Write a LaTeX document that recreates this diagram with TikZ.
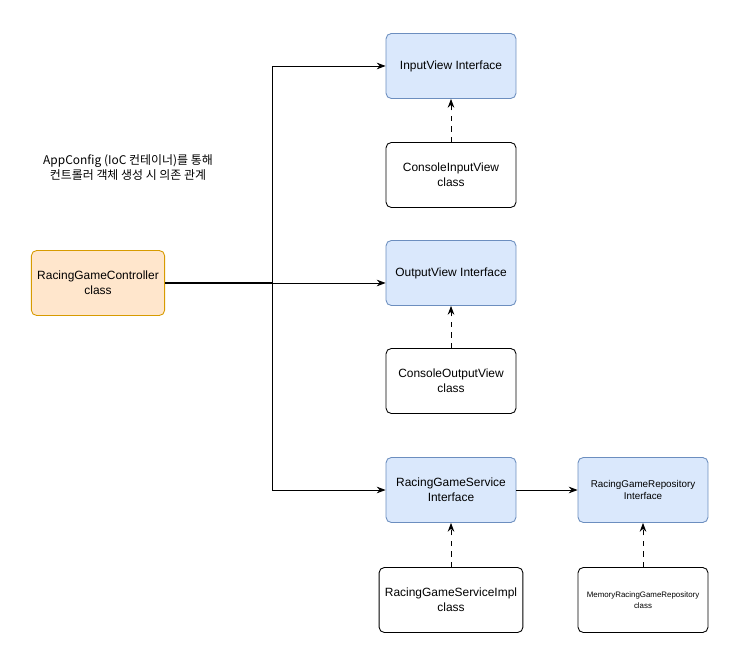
\documentclass[tikz,border=0pt]{standalone}
\usepackage{fontspec}
\setmainfont{Liberation Sans}
\newfontfamily\krfont{Noto Sans CJK KR}
\usetikzlibrary{arrows.meta}
\definecolor{ifill}{HTML}{DAE8FC}
\definecolor{iline}{HTML}{6C8EBF}
\definecolor{cfill}{HTML}{FFE6CC}
\definecolor{cline}{HTML}{D79B00}

\begin{document}
\begin{tikzpicture}[x=0.02cm, y=-0.02cm,
	box/.style={draw, rounded corners=3pt, minimum width=2.6cm, minimum height=1.3cm,
		align=center, font=\fontsize{6.8}{8.5}\selectfont, line width=0.5pt},
	iface/.style={box, fill=ifill, draw=iline},
	impl/.style={box, fill=white, draw=black},
	dep/.style={-{Stealth[length=5pt]}, line width=0.5pt},
	real/.style={-{Stealth[length=5pt]}, dashed, line width=0.5pt}]
	\useasboundingbox (0,0) rectangle (743,651);
	\node[box, fill=cfill, draw=cline] (ctrl) at (98,283) {RacingGameController\\class};
	\node[iface] (inview) at (451,66) {InputView Interface};
	\node[impl] (cinview) at (451,175) {ConsoleInputView\\class};
	\node[iface] (outview) at (451,273) {OutputView Interface};
	\node[impl] (coutview) at (451,381) {ConsoleOutputView\\class};
	\node[iface] (service) at (451,490) {RacingGameService\\Interface};
	\node[impl] (serviceimpl) at (451,600) {RacingGameServiceImpl\\class};
	\node[iface, font=\fontsize{5.6}{7}\selectfont] (repo) at (643,490) {RacingGameRepository\\Interface};
	\node[impl, font=\fontsize{4.5}{6}\selectfont] (memrepo) at (643,600) {MemoryRacingGameRepository\\class};
	\node[align=center, font=\krfont\fontsize{6.8}{8.5}\selectfont] (note) at (128,168)
		{AppConfig (IoC 컨테이너)를 통해\\컨트롤러 객체 생성 시 의존 관계};
	\coordinate (split) at (272,283);
	% controller dependencies
	\draw[line width=1pt] (ctrl.east) -- (split);
	\draw[dep] (split) |- (inview.west);
	\draw[dep] (split) -- (split -| outview.west);
	\draw[dep] (split) |- (service.west);
	\draw[dep] (service.east) -- (repo.west);
	% implementations
	\draw[real] (cinview) -- (inview);
	\draw[real] (coutview) -- (outview);
	\draw[real] (serviceimpl) -- (service);
	\draw[real] (memrepo) -- (repo);
\end{tikzpicture}
\end{document}
